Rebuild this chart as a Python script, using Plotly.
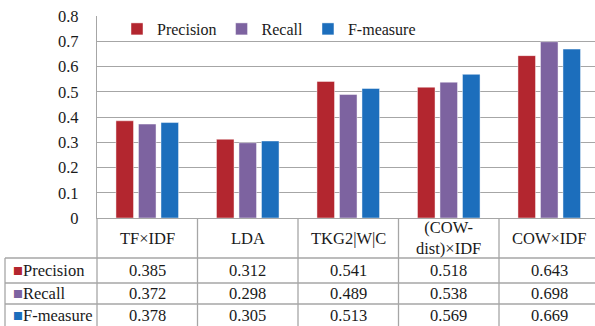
import plotly.graph_objects as go

categories = ["TF×IDF", "LDA", "TKG2|W|C", "(COW-dist)×IDF", "COW×IDF"]
header_labels = ["TF×IDF", "LDA", "TKG2|W|C", "(COW-<br>dist)×IDF", "COW×IDF"]
series_names = ["Precision", "Recall", "F-measure"]
precision = [0.385, 0.312, 0.541, 0.518, 0.643]
recall = [0.372, 0.298, 0.489, 0.538, 0.698]
fmeasure = [0.378, 0.305, 0.513, 0.569, 0.669]
y_ticks = [0, 0.1, 0.2, 0.3, 0.4, 0.5, 0.6, 0.7, 0.8]

colors = ["#B3262F", "#7D63A0", "#1C6EBC"]
series = [precision, recall, fmeasure]

W, H = 595, 326
L, T, B = 97, 16, 108
PLOT_W = W - L
PLOT_H = H - T - B
CAT_W = 100.5
x_max = -0.5 + PLOT_W / CAT_W
FONT = "'Liberation Serif', 'Times New Roman', 'DejaVu Serif', serif"
GRID = "#A6A6A6"
TXT = "#1a1a1a"

def px_y(p):
    return (H - B - p) / PLOT_H

def px_x(p):
    return (p - L) / PLOT_W

fig = go.Figure()
for name, vals, c in zip(series_names, series, colors):
    fig.add_trace(go.Bar(
        x=list(range(len(categories))), y=vals, name=name,
        marker=dict(color=c, line=dict(color="rgba(255,255,255,0.45)", width=1)),
    ))

shapes = []
for p in [258, 283, 304]:
    shapes.append(dict(type="line", xref="paper", yref="paper", x0=px_x(5), x1=1.01,
                       y0=px_y(p), y1=px_y(p), line=dict(color=GRID, width=1.3)))
shapes.append(dict(type="line", xref="paper", yref="paper", x0=px_x(5), x1=px_x(5),
                   y0=px_y(258), y1=px_y(330), line=dict(color=GRID, width=1.3)))
for k in range(len(categories)):
    xv = k / (x_max + 0.5)
    shapes.append(dict(type="line", xref="paper", yref="paper", x0=xv, x1=xv,
                       y0=0, y1=px_y(330), line=dict(color=GRID, width=1.3)))

annotations = []
for i, lab in enumerate(header_labels):
    annotations.append(dict(x=i, y=px_y(238), xref="x", yref="paper", text=lab,
                            showarrow=False, xanchor="center", yanchor="middle",
                            font=dict(family=FONT, size=16.5, color=TXT)))
row_y = [270.5, 293.5, 315.5]
for name, vals, c, ry in zip(series_names, series, colors, row_y):
    annotations.append(dict(x=px_x(11), y=px_y(ry), xref="paper", yref="paper",
                            text=f'<span style="color:{c}">■</span>{name}',
                            showarrow=False, xanchor="left", yanchor="middle",
                            font=dict(family=FONT, size=16.5, color=TXT)))
    for i, v in enumerate(vals):
        annotations.append(dict(x=i, y=px_y(ry), xref="x", yref="paper", text=f"{v:.3f}",
                                showarrow=False, xanchor="center", yanchor="middle",
                                font=dict(family=FONT, size=16.5, color=TXT)))

fig.update_layout(
    width=W, height=H,
    margin=dict(l=L, r=0, t=T, b=B, pad=0),
    paper_bgcolor="white", plot_bgcolor="white",
    barmode="group", bargap=0.328, bargroupgap=0.22,
    font=dict(family=FONT, size=16, color=TXT),
    xaxis=dict(range=[-0.5, x_max], showticklabels=False, showgrid=False, zeroline=False,
               showline=True, linecolor=GRID, linewidth=1.3, ticks=""),
    yaxis=dict(range=[0, 0.8], tickvals=y_ticks, ticktext=[f"{t:g}" for t in y_ticks],
               showgrid=True, gridcolor=GRID, gridwidth=1.3, zeroline=False,
               showline=True, linecolor=GRID, linewidth=1.3, ticks="",
               ticklabelstandoff=14, tickfont=dict(family=FONT, size=16.5, color=TXT)),
    legend=dict(orientation="h", x=px_x(117), y=px_y(29), xanchor="left", yanchor="middle",
                bgcolor="rgba(0,0,0,0)", itemwidth=30, tracegroupgap=0,
                font=dict(family=FONT, size=16, color=TXT)),
    shapes=shapes, annotations=annotations,
)
fig.write_html("out.html", config={"displayModeBar": False},
               post_script="document.body.style.margin='0';")
